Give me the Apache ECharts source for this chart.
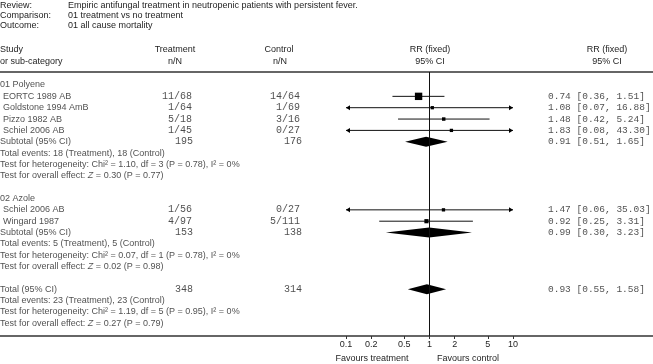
<!DOCTYPE html>
<html><head><meta charset="utf-8">
<script src="https://cdn.jsdelivr.net/npm/echarts@6/dist/echarts.min.js"></script>
<style>html,body{margin:0;padding:0;background:#fff}#c{width:653px;height:364px}</style>
</head><body><div id="c"></div>
<script>
// ---------- data ----------
const reviewTitle = 'Empiric antifungal treatment in neutropenic patients with persistent fever.';
const comparisonTitle = '01 treatment vs no treatment';
const outcomeTitle = '01 all cause mortality';
const groupNames = ['01 Polyene', '02 Azole'];
const studyGroup = [0, 0, 0, 0, 1, 1];
const studyNames = ['EORTC 1989 AB', 'Goldstone 1994 AmB', 'Pizzo 1982 AB', 'Schiel 2006 AB', 'Schiel 2006 AB', 'Wingard 1987'];
const treatEvents = [11, 1, 5, 1, 1, 4];
const treatN = [68, 64, 18, 45, 56, 97];
const ctrlEvents = [14, 1, 3, 0, 0, 5];
const ctrlN = [64, 69, 16, 27, 27, 111];
const studyRR = [0.74, 1.08, 1.48, 1.83, 1.47, 0.92];
const studyLo = [0.36, 0.07, 0.42, 0.08, 0.06, 0.25];
const studyHi = [1.51, 16.88, 5.24, 43.30, 35.03, 3.31];
const subRR = [0.91, 0.99];
const subLo = [0.51, 0.30];
const subHi = [1.65, 3.23];
const subTreatN = [195, 153];
const subCtrlN = [176, 138];
const subTreatEv = [18, 5];
const subCtrlEv = [18, 5];
const subChi2 = ['1.10', '0.07'];
const subDf = [3, 1];
const subHetP = ['0.78', '0.78'];
const subI2 = [0, 0];
const subZ = ['0.30', '0.02'];
const subZP = ['0.77', '0.98'];
const totalRR = 0.93, totalLo = 0.55, totalHi = 1.58;
const totalTreatN = 348, totalCtrlN = 314, totalTreatEv = 23, totalCtrlEv = 23;
const totalChi2 = '1.19', totalDf = 5, totalHetP = '0.95', totalI2 = 0, totalZ = '0.27', totalZP = '0.79';
const tickValues = [0.1, 0.2, 0.5, 1, 2, 5, 10];
const tickLabels = ['0.1', '0.2', '0.5', '1', '2', '5', '10'];

// ---------- layout ----------
const ROW = 11.35, FIRST_ROW_Y = 85, TOP = 72, BOTTOM_Y = 336, W = 653, H = 364;
const yMin = -(FIRST_ROW_Y - TOP) / ROW;
const yMax = yMin + (BOTTOM_Y - TOP) / ROW;
const X_MIN = 0.1, X_MAX = 10;
const SANS = '"Liberation Sans", Arial, sans-serif';
const MONO = '"Liberation Mono", "Courier New", monospace';
const TXT = '#1e1e1e';
const FS = 9;
const COL = { name: 0, indent: 3, treat: 192, ctrl: 300, treatTot: 193, ctrlTot: 302, res: 548 };

const f2 = v => v.toFixed(2);
const ciText = (r, l, h) => `${f2(r)} [${f2(l)}, ${f2(h)}]`;
const evText = (t, c) => `Total events: ${t} (Treatment), ${c} (Control)`;
const hetText = (chi, df, p, i2) => `Test for heterogeneity: Chi² = ${chi}, df = ${df} (P = ${p}), I² = ${i2}%`;
const zText = (z, p) => `Test for overall effect: {i|Z} = ${z} (P = ${p})`;

// build row lists
const leftRows = [], treatRows = [], ctrlRows = [], resRows = [], studyMarks = [], diamonds = [];
let k = 0;
groupNames.forEach((g, gi) => {
  leftRows.push([COL.name, k++, g]);
  studyNames.forEach((s, i) => {
    if (studyGroup[i] !== gi) return;
    leftRows.push([COL.indent, k, s]);
    treatRows.push([COL.treat, k, treatEvents[i] + '/' + treatN[i]]);
    ctrlRows.push([COL.ctrl, k, ctrlEvents[i] + '/' + ctrlN[i]]);
    resRows.push([COL.res, k, ciText(studyRR[i], studyLo[i], studyHi[i])]);
    const w = Math.max(ctrlEvents[i], 0.5) * treatN[i] / (treatN[i] + ctrlN[i]);
    studyMarks.push([studyRR[i], k, studyLo[i], studyHi[i], w]);
    k++;
  });
  leftRows.push([COL.name, k, 'Subtotal (95% CI)']);
  treatRows.push([COL.treatTot, k, String(subTreatN[gi])]);
  ctrlRows.push([COL.ctrlTot, k, String(subCtrlN[gi])]);
  resRows.push([COL.res, k, ciText(subRR[gi], subLo[gi], subHi[gi])]);
  diamonds.push([subRR[gi], k, subLo[gi], subHi[gi]]);
  k++;
  leftRows.push([COL.name, k++, evText(subTreatEv[gi], subCtrlEv[gi])]);
  leftRows.push([COL.name, k++, hetText(subChi2[gi], subDf[gi], subHetP[gi], subI2[gi])]);
  leftRows.push([COL.name, k++, zText(subZ[gi], subZP[gi])]);
  k++; // blank row
});
leftRows.push([COL.name, k, 'Total (95% CI)']);
treatRows.push([COL.treatTot, k, String(totalTreatN)]);
ctrlRows.push([COL.ctrlTot, k, String(totalCtrlN)]);
resRows.push([COL.res, k, ciText(totalRR, totalLo, totalHi)]);
diamonds.push([totalRR, k, totalLo, totalHi]);
k++;
leftRows.push([COL.name, k++, evText(totalTreatEv, totalCtrlEv)]);
leftRows.push([COL.name, k++, hetText(totalChi2, totalDf, totalHetP, totalI2)]);
leftRows.push([COL.name, k++, zText(totalZ, totalZP)]);

function textSeries(data, align, font, size) {
  return {
    type: 'scatter', xAxisIndex: 1, yAxisIndex: 1, data: data, symbolSize: 1, clip: false, silent: true,
    itemStyle: { color: 'transparent' },
    label: {
      show: true, position: 'inside', align: align, verticalAlign: 'middle',
      fontFamily: font, fontSize: size, color: TXT,
      formatter: p => p.data[2],
      rich: { i: { fontStyle: 'italic', fontFamily: font, fontSize: size, color: TXT } }
    }
  };
}

function renderStudy(params, api) {
  const est = api.value(0), row = api.value(1), lo = api.value(2), hi = api.value(3), w = api.value(4);
  const p0 = api.coord([Math.max(lo, X_MIN), row]);
  const p1 = api.coord([Math.min(hi, X_MAX), row]);
  const pc = api.coord([est, row]);
  const s = Math.max(3.3, 2.75 * Math.sqrt(w));
  const st = { stroke: '#111', lineWidth: 1 };
  const children = [
    { type: 'line', shape: { x1: p0[0], y1: p0[1], x2: p1[0], y2: p1[1] }, style: st },
    { type: 'rect', shape: { x: pc[0] - s / 2, y: pc[1] - s / 2, width: s, height: s }, style: { fill: '#000' } }
  ];
  if (lo < X_MIN) children.push({ type: 'polygon', shape: { points: [[p0[0], p0[1]], [p0[0] + 4, p0[1] - 2.5], [p0[0] + 4, p0[1] + 2.5]] }, style: { fill: '#000' } });
  if (hi > X_MAX) children.push({ type: 'polygon', shape: { points: [[p1[0], p1[1]], [p1[0] - 4, p1[1] - 2.5], [p1[0] - 4, p1[1] + 2.5]] }, style: { fill: '#000' } });
  return { type: 'group', children: children };
}

function renderDiamond(params, api) {
  const est = api.value(0), row = api.value(1), lo = api.value(2), hi = api.value(3);
  const a = api.coord([lo, row]), b = api.coord([hi, row]), c = api.coord([est, row]);
  return { type: 'polygon', shape: { points: [a, [c[0], c[1] - 5], b, [c[0], c[1] + 5]] }, style: { fill: '#000' } };
}

const hdr = (text, x, y, align) => ({ type: 'text', x: x, y: y, style: { text: text, fill: TXT, font: FS + 'px ' + SANS, align: align || 'left', verticalAlign: 'middle' } });

const option = {
  animation: false,
  backgroundColor: '#fff',
  grid: [
    { left: 346, width: 167, top: TOP, height: BOTTOM_Y - TOP },
    { left: 0, width: W, top: TOP, height: BOTTOM_Y - TOP }
  ],
  xAxis: [
    {
      type: 'log', gridIndex: 0, min: X_MIN, max: X_MAX, logBase: 10,
      axisLine: { show: false, onZero: false }, splitLine: { show: false },
      axisTick: { show: true, length: 3, customValues: tickValues, lineStyle: { color: '#333' } },
      axisLabel: { show: true, customValues: tickValues, margin: 4, fontFamily: SANS, fontSize: FS, color: TXT,
        formatter: v => { const i = tickValues.findIndex(t => Math.abs(t - v) < 1e-9); return i >= 0 ? tickLabels[i] : ''; } }
    },
    { type: 'value', gridIndex: 1, min: 0, max: W, position: 'bottom', axisLine: { show: true, onZero: false, lineStyle: { color: '#333', width: 1.5 } }, axisTick: { show: false }, axisLabel: { show: false }, splitLine: { show: false } },
    { type: 'value', gridIndex: 1, min: 0, max: W, position: 'top', axisLine: { show: true, onZero: false, lineStyle: { color: '#333', width: 1.5 } }, axisTick: { show: false }, axisLabel: { show: false }, splitLine: { show: false } }
  ],
  yAxis: [
    { type: 'value', gridIndex: 0, inverse: true, min: yMin, max: yMax, show: false, axisLine: { onZero: false } },
    { type: 'value', gridIndex: 1, inverse: true, min: yMin, max: yMax, show: false, axisLine: { onZero: false } }
  ],
  graphic: [
    hdr('Review:', 0, 6), hdr(reviewTitle, 68, 6),
    hdr('Comparison:', 0, 16), hdr(comparisonTitle, 68, 16),
    hdr('Outcome:', 0, 26), hdr(outcomeTitle, 68, 26),
    hdr('Study', 0, 50), hdr('or sub-category', 0, 62),
    hdr('Treatment', 175, 50, 'center'), hdr('n/N', 175, 62, 'center'),
    hdr('Control', 279, 50, 'center'), hdr('n/N', 280, 62, 'center'),
    hdr('RR (fixed)', 430, 50, 'center'), hdr('95% CI', 430, 62, 'center'),
    hdr('RR (fixed)', 607, 50, 'center'), hdr('95% CI', 607, 62, 'center'),
    hdr('Favours treatment', 372, 359, 'center'), hdr('Favours control', 468, 359, 'center')
  ],
  series: [
    textSeries(leftRows, 'left', SANS, FS),
    textSeries(treatRows, 'right', MONO, 10),
    textSeries(ctrlRows, 'right', MONO, 10),
    textSeries(resRows, 'left', MONO, 9.5),
    { type: 'custom', xAxisIndex: 0, yAxisIndex: 0, data: studyMarks, renderItem: renderStudy, clip: false, silent: true },
    { type: 'custom', xAxisIndex: 0, yAxisIndex: 0, data: diamonds, renderItem: renderDiamond, clip: false, silent: true,
      markLine: { silent: true, symbol: 'none', label: { show: false }, lineStyle: { color: '#111', width: 1, type: 'solid' }, data: [{ xAxis: 1 }] } }
  ]
};
const chart = echarts.init(document.getElementById('c'), null, { renderer: 'canvas' });
chart.setOption(option);
</script></body></html>
